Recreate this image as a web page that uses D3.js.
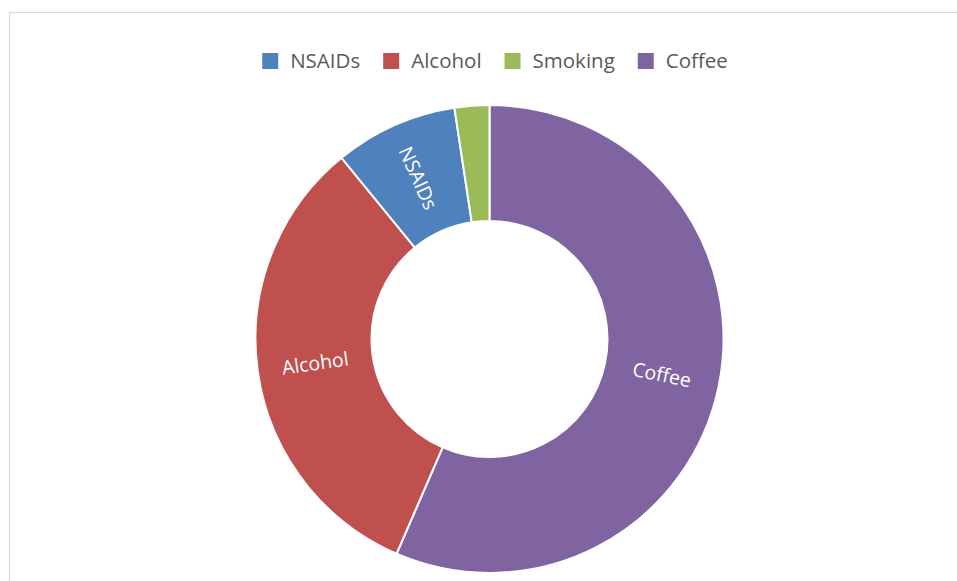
<!DOCTYPE html>
<html>
<head>
<meta charset="utf-8">
<script src="https://cdn.jsdelivr.net/npm/d3@7"></script>
<style>
  body { margin: 0; background: #fff; }
  svg { display: block; }
</style>
</head>
<body>
<svg id="chart"></svg>
<script>
// Legend order
const legendNames = ['NSAIDs', 'Alcohol', 'Smoking', 'Coffee'];
const legendColors = ['#4F81BD', '#C0504D', '#9BBB59', '#8064A2'];

// Slice order, clockwise from 12 o'clock (percent)
const sliceNames = ['Coffee', 'Alcohol', 'NSAIDs', 'Smoking'];
const sliceValues = [56.5, 32.6, 8.5, 2.4];
const sliceLabelShown = [true, true, true, false];

const width = 957;
const height = 581;
const cx = 489.5;
const cy = 339;
const outerR = 234;
const innerR = 118;
const legendCenter = 495;

const color = d3.scaleOrdinal().domain(legendNames).range(legendColors);

const svg = d3.select('#chart')
    .attr('width', width)
    .attr('height', height);

// Chart border (runs off the right and bottom of the picture)
svg.append('rect')
    .attr('x', 9.5)
    .attr('y', 12.5)
    .attr('width', width + 20)
    .attr('height', height + 20)
    .style('fill', 'none')
    .style('stroke', '#d9d9d9')
    .style('stroke-width', 1.2);

const data = sliceNames.map((name, i) => ({name, value: sliceValues[i], label: sliceLabelShown[i]}));

const pie = d3.pie().sort(null).value(d => d.value);
const arc = d3.arc().innerRadius(innerR).outerRadius(outerR);
const labelArc = d3.arc().innerRadius((innerR + outerR) / 2).outerRadius((innerR + outerR) / 2);

const g = svg.append('g').attr('transform', `translate(${cx},${cy})`);

g.selectAll('path')
    .data(pie(data))
    .enter()
    .append('path')
    .attr('d', arc)
    .style('fill', d => color(d.data.name))
    .style('stroke', '#fff')
    .style('stroke-width', 2);

g.selectAll('text')
    .data(pie(data).filter(d => d.data.label))
    .enter()
    .append('text')
    .attr('transform', d => {
        const [x, y] = labelArc.centroid(d);
        const mid = (d.startAngle + d.endAngle) / 2 * 180 / Math.PI;
        const rot = mid < 180 ? mid - 90 : mid - 270;
        return `translate(${x},${y}) rotate(${rot})`;
    })
    .attr('text-anchor', 'middle')
    .attr('dy', '0.35em')
    .style('font-family', 'Open Sans, sans-serif')
    .style('font-size', '19.5px')
    .style('fill', '#fff')
    .text(d => d.data.name);

// Legend
const legendFont = '20.5px Open Sans, sans-serif';
const measure = (() => {
    const ctx = document.createElement('canvas').getContext('2d');
    return t => { ctx.font = legendFont; return ctx.measureText(t).width; };
})();
const markerSize = 16;
const markerGap = 12;
const itemGap = 23;
const itemWidths = legendNames.map(n => markerSize + markerGap + measure(n));
const totalW = d3.sum(itemWidths) + itemGap * (legendNames.length - 1);
let lx = legendCenter - totalW / 2;
const legend = svg.append('g').attr('class', 'legend');
legendNames.forEach((name, i) => {
    const item = legend.append('g').attr('transform', `translate(${lx},0)`);
    item.append('rect')
        .attr('x', 0)
        .attr('y', 53)
        .attr('width', markerSize)
        .attr('height', markerSize)
        .style('fill', color(name));
    item.append('text')
        .attr('x', markerSize + markerGap)
        .attr('y', 61)
        .attr('dy', '0.35em')
        .style('font', legendFont)
        .style('fill', '#595959')
        .text(name);
    lx += itemWidths[i] + itemGap;
});
</script>
</body>
</html>
